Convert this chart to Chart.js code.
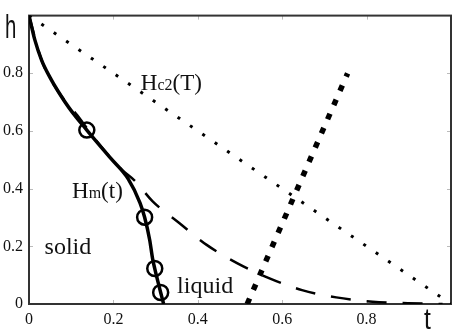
<!DOCTYPE html>
<html>
<head>
  <meta charset="utf-8">
  <title>Phase diagram h(t)</title>
  <style>
    body { margin: 0; background: #fff; }
    #wrap { width: 461px; height: 334px; }
  </style>
</head>
<body>
  <div id="wrap"><canvas id="phase" width="461" height="334"></canvas></div>

  <script src="https://cdn.jsdelivr.net/npm/chart.js"></script>
  <script>
    // tick labels
    const xTicks = [0, 0.2, 0.4, 0.6, 0.8];
    const yTicks = [0, 0.2, 0.4, 0.6, 0.8];

    // Hc2(T) - fine dotted line
    const hc2T = [0, 1];
    const hc2H = [1, 0];

    // Hm(t) - melting line (thick solid)
    const hmT = [0, 0.014, 0.03, 0.05, 0.07, 0.095, 0.137, 0.195, 0.235, 0.263, 0.274, 0.286, 0.293, 0.298, 0.312, 0.319];
    const hmH = [1, 0.915, 0.845, 0.785, 0.735, 0.68, 0.603, 0.503, 0.434, 0.351, 0.301, 0.222, 0.156, 0.123, 0.04, 0];

    // measured points on Hm (open circles)
    const ptT = [0.137, 0.274, 0.298, 0.312];
    const ptH = [0.603, 0.301, 0.123, 0.04];

    // long dashed curve
    const dashT = [0, 0.03, 0.07, 0.114, 0.16, 0.219, 0.251, 0.293, 0.356, 0.421, 0.493, 0.57, 0.647, 0.728, 0.814, 0.898, 0.98];
    const dashH = [1, 0.845, 0.735, 0.655, 0.565, 0.467, 0.427, 0.356, 0.281, 0.205, 0.142, 0.089, 0.048, 0.023, 0.008, 0.003, 0];

    // thick dotted straight line
    const thickT = [0.517, 0.755];
    const thickH = [0, 0.8];

    const zip = (xs, ys) => xs.map((x, i) => ({ x: x, y: ys[i] }));

    // text inside the plot, in data units (left edge, middle)
    const notes = [
      { t: 0.265, h: 0.77, parts: [['H', 23], ['c2', 16], ['(T)', 23]] },
      { t: 0.102, h: 0.394, parts: [['H', 23], ['m', 16], ['(t)', 23]] },
      { t: 0.037, h: 0.2, parts: [['solid', 24]] },
      { t: 0.351, h: 0.066, parts: [['liquid', 24]] }
    ];

    const frame = {
      id: 'frame',
      beforeDatasetsDraw(chart) {
        const { ctx, chartArea: a, scales } = chart;
        ctx.save();
        // small inward ticks on all four sides
        ctx.strokeStyle = '#bbb';
        ctx.lineWidth = 1;
        xTicks.slice(1).forEach(v => {
          const px = Math.round(scales.x.getPixelForValue(v)) + 0.5;
          ctx.beginPath();
          ctx.moveTo(px, a.bottom); ctx.lineTo(px, a.bottom - 4);
          ctx.moveTo(px, a.top); ctx.lineTo(px, a.top + 4);
          ctx.stroke();
        });
        yTicks.slice(1).forEach(v => {
          const py = Math.round(scales.y.getPixelForValue(v)) + 0.5;
          ctx.beginPath();
          ctx.moveTo(a.left, py); ctx.lineTo(a.left + 4, py);
          ctx.moveTo(a.right, py); ctx.lineTo(a.right - 4, py);
          ctx.stroke();
        });
        ctx.strokeStyle = '#333';
        ctx.lineWidth = 2;
        ctx.strokeRect(a.left, a.top, a.right - a.left, a.bottom - a.top);
        ctx.restore();
      },
      afterDraw(chart) {
        const { ctx, chartArea: a, scales } = chart;
        ctx.save();
        ctx.fillStyle = '#111';
        ctx.textBaseline = 'alphabetic';
        notes.forEach(n => {
          let x = scales.x.getPixelForValue(n.t);
          const y = scales.y.getPixelForValue(n.h) + 8;
          n.parts.forEach(([s, size]) => {
            ctx.font = size + "px 'Liberation Serif', 'Times New Roman', serif";
            ctx.fillText(s, x, y);
            x += ctx.measureText(s).width;
          });
        });
        // axis names
        ctx.font = "34px 'Liberation Sans', Arial, sans-serif";
        ctx.save();
        ctx.translate(5, 38);
        ctx.scale(0.6, 1);
        ctx.fillText('h', 0, 0);
        ctx.restore();
        ctx.font = "29px 'Liberation Sans', Arial, sans-serif";
        ctx.save();
        ctx.translate(a.right - 35 + 8, a.bottom + 25);
        ctx.scale(0.85, 1);
        ctx.fillText('t', 0, 0);
        ctx.restore();
        ctx.restore();
      }
    };

    const ctx = document.getElementById('phase').getContext('2d');
    new Chart(ctx, {
      type: 'scatter',
      data: {
        datasets: [
          {
            label: 'Hc2',
            data: zip(hc2T, hc2H),
            showLine: true,
            borderColor: '#000',
            borderWidth: 3,
            borderDash: [3, 12],
            pointRadius: 0
          },
          {
            label: 'dashed',
            data: zip(dashT, dashH),
            showLine: true,
            borderColor: '#000',
            borderWidth: 2.5,
            borderDash: [20, 16],
            cubicInterpolationMode: 'monotone',
            pointRadius: 0
          },
          {
            label: 'thick',
            data: zip(thickT, thickH),
            showLine: true,
            borderColor: '#000',
            borderWidth: 5.5,
            borderDash: [6, 9.5],
            pointRadius: 0
          },
          {
            label: 'Hm',
            data: zip(hmT, hmH),
            showLine: true,
            borderColor: '#000',
            borderWidth: 3.5,
            cubicInterpolationMode: 'monotone',
            pointRadius: 0
          },
          {
            label: 'points',
            data: zip(ptT, ptH),
            showLine: false,
            pointRadius: 7.5,
            pointBackgroundColor: '#fff',
            pointBorderColor: '#000',
            pointBorderWidth: 2.5
          }
        ]
      },
      options: {
        responsive: false,
        animation: false,
        devicePixelRatio: 1,
        layout: { padding: { top: 2, right: 3, left: 0, bottom: 0 } },
        plugins: { legend: { display: false }, tooltip: { enabled: false } },
        scales: {
          x: {
            type: 'linear', min: 0, max: 1,
            afterBuildTicks: s => { s.ticks = xTicks.map(v => ({ value: v })); },
            afterFit: s => { s.height = 30; },
            grid: { display: false, drawTicks: false },
            border: { display: false },
            ticks: {
              padding: 6,
              color: '#111',
              font: { family: "'Liberation Serif', 'Times New Roman', serif", size: 16 },
              callback: v => String(v)
            }
          },
          y: {
            type: 'linear', min: 0, max: 1,
            afterBuildTicks: s => { s.ticks = yTicks.map(v => ({ value: v })); },
            afterFit: s => { s.width = 29; },
            grid: { display: false, drawTicks: false },
            border: { display: false },
            ticks: {
              padding: 6,
              color: '#111',
              font: { family: "'Liberation Serif', 'Times New Roman', serif", size: 16 },
              callback: v => String(v)
            }
          }
        }
      },
      plugins: [frame]
    });
  </script>
</body>
</html>
